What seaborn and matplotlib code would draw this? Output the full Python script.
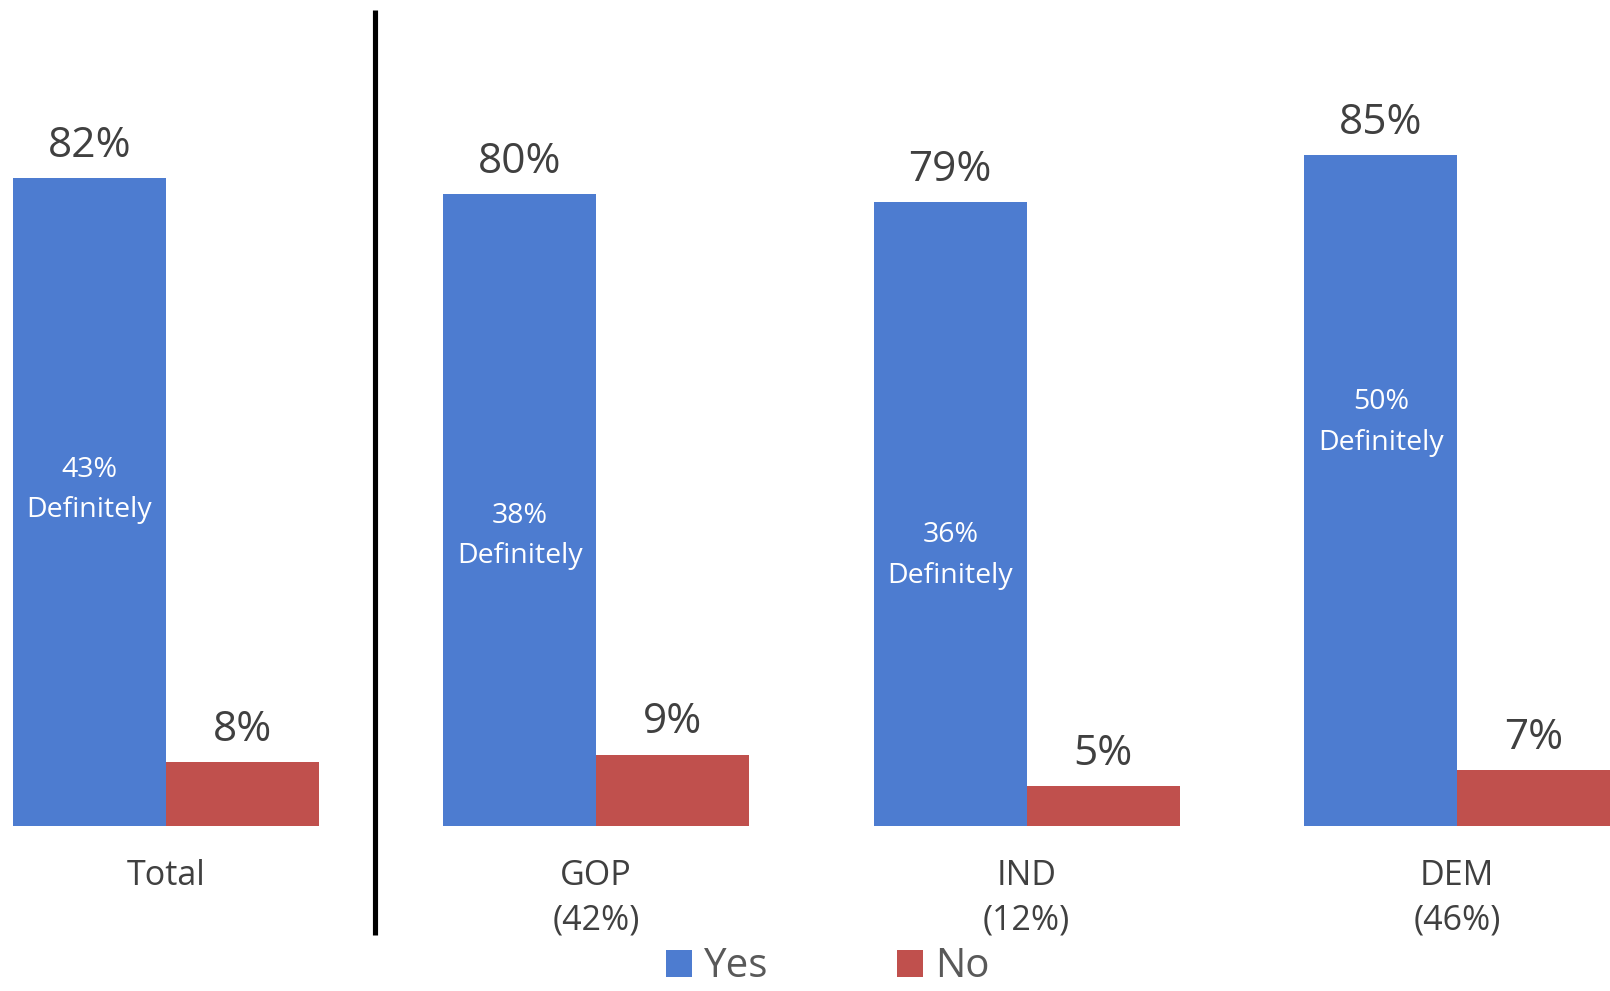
import matplotlib
matplotlib.use("Agg")
import matplotlib.pyplot as plt
import matplotlib.transforms as mtransforms
import seaborn as sns
import pandas as pd

# Data
groups = ['Total', 'GOP', 'IND', 'DEM']
group_labels = ['Total', 'GOP\n(42%)', 'IND\n(12%)', 'DEM\n(46%)']
yes_values = [82, 80, 79, 85]
no_values = [8, 9, 5, 7]
definitely_values = [43, 38, 36, 50]

# Layout: vertical position (in % units) of the "Definitely" labels
definitely_label_y = [42.5, 36.7, 34.2, 51.1]

blue = '#4D7CD0'
red = '#C0504D'
text_dark = '#404040'

df = pd.DataFrame({
    'Group': groups * 2,
    'Response': ['Yes'] * len(groups) + ['No'] * len(groups),
    'Pct': yes_values + no_values,
})

sns.set_theme(style='white')
plt.rcParams['font.family'] = ['Open Sans', 'DejaVu Sans']

fig = plt.figure(figsize=(16.1, 9.91), dpi=100)
ax = fig.add_axes([0, 0.1669, 1, 0.8331])

sns.barplot(data=df, x='Group', y='Pct', hue='Response', order=groups,
            hue_order=['Yes', 'No'], palette={'Yes': blue, 'No': red},
            width=0.71, saturation=1, linewidth=0, ax=ax)

ax.set_xlim(-0.385, 3.355)
ax.set_ylim(0, 104.6)

# Value labels above the bars
for container, vals in zip(ax.containers, [yes_values, no_values]):
    ax.bar_label(container, labels=[f'{v}%' for v in vals], padding=8,
                 fontsize=30.5, color=text_dark)

# "Definitely" labels inside the blue bars
yes_bars = ax.containers[0]
for bar, v, ypos in zip(yes_bars, definitely_values, definitely_label_y):
    ax.text(bar.get_x() + bar.get_width() / 2, ypos, f'{v}%\nDefinitely',
            ha='center', va='center', color='white', fontsize=20.5,
            linespacing=1.6)

# Group labels
ax.set_xticks(range(len(groups)))
ax.set_xticklabels(group_labels, fontsize=24.5, color=text_dark, linespacing=1.4)
ax.tick_params(axis='x', length=0, pad=24)
ax.set_yticks([])
ax.set_xlabel('')
ax.set_ylabel('')
for spine in ax.spines.values():
    spine.set_visible(False)

# Divider between Total and party groups
trans = mtransforms.blended_transform_factory(ax.transData, ax.transAxes)
ax.plot([0.4856, 0.4856], [-0.1325, 0.9875], transform=trans, color='black',
        lw=3.7, clip_on=False, solid_capstyle='butt')

# Legend
handles, labels = ax.get_legend_handles_labels()
ax.legend_.remove()
fig.legend(handles, labels, loc='center', bbox_to_anchor=(0.514, 0.024),
           ncol=2, frameon=False, fontsize=29, labelcolor='#595959',
           handlelength=0.64, handleheight=0.64, handletextpad=0.3,
           columnspacing=3.2, borderpad=0.1)

fig.savefig('out.png', dpi=100)
